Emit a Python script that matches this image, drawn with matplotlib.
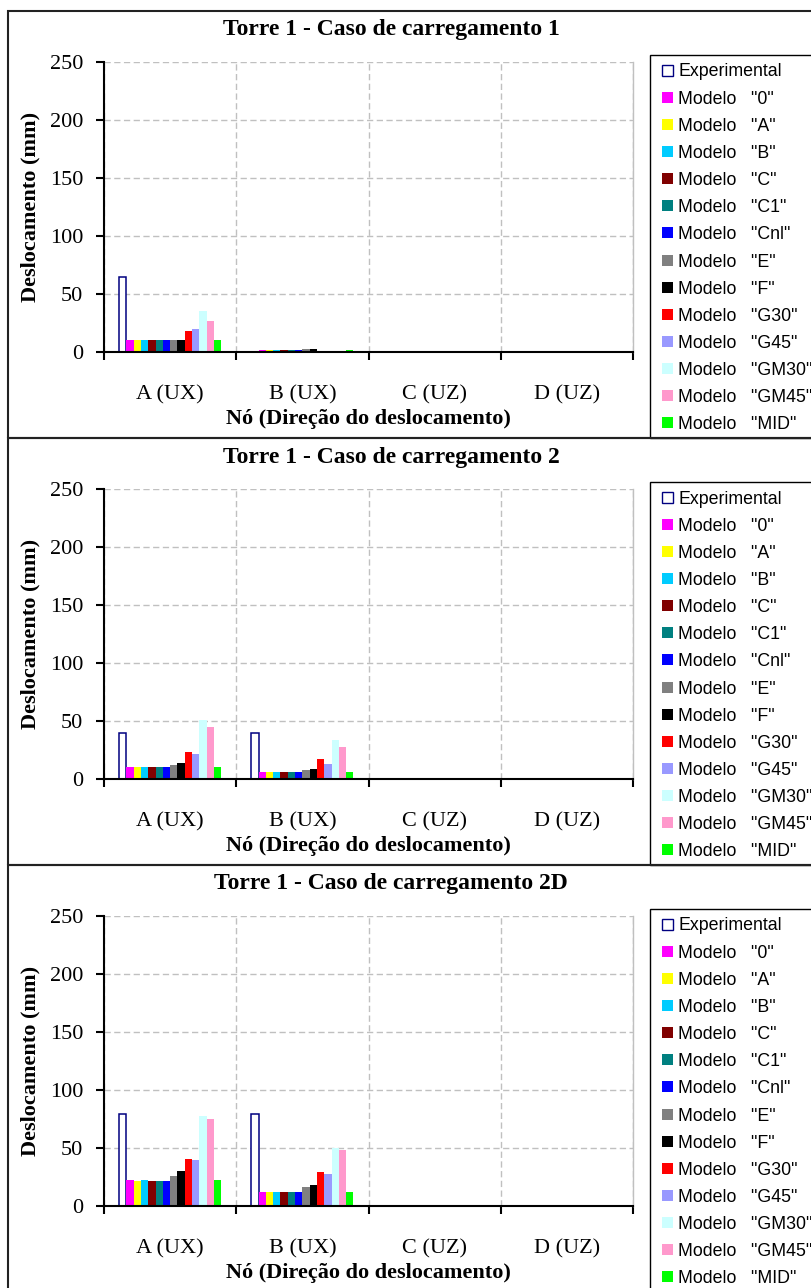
import numpy as np
import matplotlib
matplotlib.use("Agg")
import matplotlib.pyplot as plt
from matplotlib.patches import Rectangle

# ---------------- data ----------------
categories = ["A (UX)", "B (UX)", "C (UZ)", "D (UZ)"]
series_names = ["Experimental", '"0"', '"A"', '"B"', '"C"', '"C1"', '"Cnl"', '"E"',
                '"F"', '"G30"', '"G45"', '"GM30"', '"GM45"', '"MID"']
series_colors = ["white", "#FF00FF", "#FFFF00", "#00CCFF", "#800000", "#008080",
                 "#0000FF", "#808080", "#000000", "#FF0000", "#9999FF", "#CCFFFF",
                 "#FF99CC", "#00FF00"]
titles = ["Torre 1 - Caso de carregamento 1",
          "Torre 1 - Caso de carregamento 2",
          "Torre 1 - Caso de carregamento 2D"]
nan = np.nan
# values[series] = [A, B, C, D]
case1 = [
    [65, nan, nan, nan],
    [10, 1.3, nan, nan], [10, 1.3, nan, nan], [10, 1.3, nan, nan],
    [10, 1.3, nan, nan], [10, 1.3, nan, nan], [10, 1.3, nan, nan],
    [10, 2.3, nan, nan], [10.5, 2.6, nan, nan], [18, nan, nan, nan],
    [19.8, nan, nan, nan], [35.4, nan, nan, nan], [26.7, nan, nan, nan],
    [10, 1.5, nan, nan],
]
case2 = [
    [40, 40, nan, nan],
    [10.4, 6.4, nan, nan], [10.4, 6.4, nan, nan], [10.4, 6.4, nan, nan],
    [10.4, 6.4, nan, nan], [10.4, 6.4, nan, nan], [10.4, 6.4, nan, nan],
    [12.4, 7.8, nan, nan], [14.2, 8.7, nan, nan], [23.4, 17.6, nan, nan],
    [21.4, 13.3, nan, nan], [50.6, 33.2, nan, nan], [44.5, 28, nan, nan],
    [10.4, 6.4, nan, nan],
]
case2d = [
    [79.3, 79.3, nan, nan],
    [22.4, 12.4, nan, nan], [21.8, 12.4, nan, nan], [22.4, 12.4, nan, nan],
    [21.6, 12.4, nan, nan], [21.6, 12.4, nan, nan], [21.6, 12.4, nan, nan],
    [25.9, 16.4, nan, nan], [29.9, 18.4, nan, nan], [40.8, 29, nan, nan],
    [39.9, 27.9, nan, nan], [77.3, 49.7, nan, nan], [75.3, 48, nan, nan],
    [22.1, 12.4, nan, nan],
]
cases = [case1, case2, case2d]
yticks = [0, 50, 100, 150, 200, 250]

# ---------------- layout ----------------
W, H = 811, 1288
fig = plt.figure(figsize=(W / 100, H / 100), dpi=100)
fig.patch.set_facecolor("white")

def fx(x):
    return x / W

def fy(y):
    return 1 - y / H

SERIF = ["Liberation Serif", "DejaVu Serif"]
SANS = ["Liberation Sans", "DejaVu Sans"]
EXP_EDGE = "#000080"
GRID = "#C0C0C0"
PANEL_H = 427

n_series = len(series_names)
group_frac = 0.773
bw = group_frac / n_series
x = np.arange(len(categories)) + 0.5

for k in range(3):
    dy = PANEL_H * k
    top = 11 + dy
    bot = top + PANEL_H
    # legend box (drawn first, so panel border sits on top)
    fig.add_artist(Rectangle((fx(650), fy(bot)), fx(840) - fx(650),
                             (bot - (55 + dy)) / H, transform=fig.transFigure,
                             facecolor="white", edgecolor="black",
                             linewidth=1.0, zorder=1))
    # panel border
    fig.add_artist(Rectangle((fx(8), fy(bot)), fx(830) - fx(8), PANEL_H / H,
                             transform=fig.transFigure, fill=False,
                             edgecolor="#222222", linewidth=1.5, zorder=2))
    ax = fig.add_axes([fx(104), fy(352 + dy), 529 / W, 290 / H])
    for i, (name, col) in enumerate(zip(series_names, series_colors)):
        vals = np.array(cases[k][i], dtype=float)
        pos = x + (i - (n_series - 1) / 2) * bw
        if i == 0:
            ax.bar(pos, vals, width=bw, facecolor="white", edgecolor=EXP_EDGE,
                   linewidth=1.1, zorder=3)
        else:
            ax.bar(pos, vals, width=bw, color=col, linewidth=0, zorder=3)
    ax.set_xlim(0, 4)
    ax.set_ylim(0, 250)
    ax.set_yticks(yticks)
    ax.set_yticklabels([str(v) for v in yticks], fontfamily=SERIF, fontsize=16)
    ax.set_xticks([0, 1, 2, 3, 4])
    ax.set_xticklabels([])
    ax.set_xticks(x, minor=True)
    ax.set_xticklabels(categories, minor=True, fontfamily=SERIF, fontsize=16)
    ax.tick_params(axis="x", which="minor", length=0, pad=24)
    ax.tick_params(axis="x", which="major", direction="out", length=6, width=1.5)
    ax.tick_params(axis="y", direction="out", length=6, width=1.5, pad=9)
    ax.grid(axis="y", color=GRID, linestyle=(0, (4.5, 2.5)), linewidth=1.0, zorder=0)
    ax.grid(axis="x", which="major", color=GRID, linestyle=(0, (4.5, 2.5)),
            linewidth=1.0, zorder=0)
    ax.set_axisbelow(True)
    for s in ["left", "bottom"]:
        ax.spines[s].set_linewidth(1.5)
        ax.spines[s].set_color("black")
        ax.spines[s].set_zorder(5)
    ax.spines["top"].set_visible(False)
    ax.spines["right"].set_color(GRID)
    ax.spines["right"].set_linewidth(1.0)

    fig.text(fx(30), fy(207 + dy), "Deslocamento (mm)", rotation=90, ha="center",
             va="center", fontfamily=SERIF, fontsize=16, fontweight="bold")
    fig.text(fx(368), fy(419 + dy), "Nó (Direção do deslocamento)", ha="center",
             va="center", fontfamily=SERIF, fontsize=16, fontweight="bold")
    fig.text(fx(391), fy(30 + dy), titles[k], ha="center", va="center",
             fontfamily=SERIF, fontsize=17, fontweight="bold")

    for i, (name, col) in enumerate(zip(series_names, series_colors)):
        yc = 70 + dy + i * 27.15
        if i == 0:
            fig.add_artist(Rectangle((fx(662), fy(yc + 5.5)), 11 / W, 11 / H,
                                     transform=fig.transFigure, facecolor="white",
                                     edgecolor=EXP_EDGE, linewidth=1.0, zorder=3))
            label = name
        else:
            fig.add_artist(Rectangle((fx(662), fy(yc + 5.5)), 11 / W, 11 / H,
                                     transform=fig.transFigure, facecolor=col,
                                     edgecolor="none", zorder=3))
            label = "Modelo   " + name
        fig.text(fx(678.5), fy(yc), label, ha="left", va="center_baseline",
                 fontfamily=SANS, fontsize=12.8, zorder=4)

fig.savefig("out.png", dpi=100, facecolor="white")
